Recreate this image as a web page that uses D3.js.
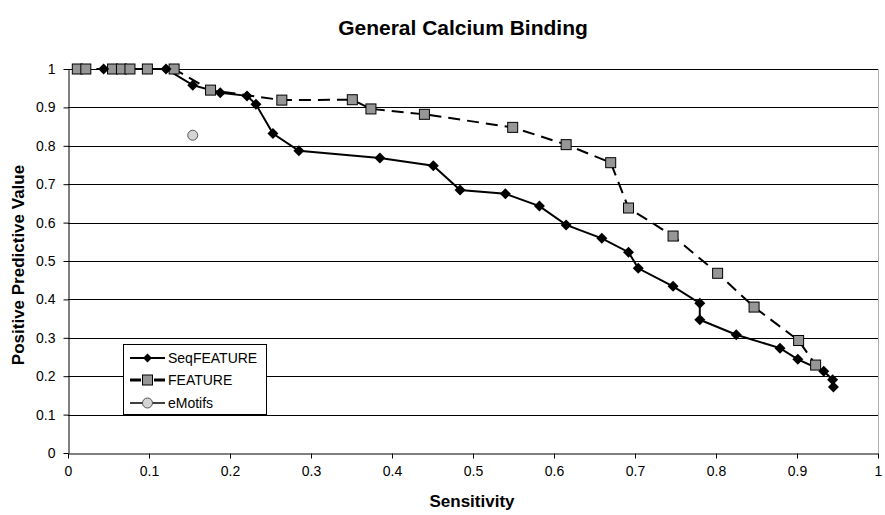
<!DOCTYPE html>
<html>
<head>
<meta charset="utf-8">
<script src="https://cdn.jsdelivr.net/npm/d3@7"></script>
<style>
  body { margin: 0; background: #fff; }
  svg { display: block; font-family: Arial, "Liberation Sans", sans-serif; }
</style>
</head>
<body>
<svg id="chart" width="885" height="515"></svg>
<script>
const title = "General Calcium Binding";
const xTitle = "Sensitivity";
const yTitle = "Positive Predictive Value";
const xTicks = [0, 0.1, 0.2, 0.3, 0.4, 0.5, 0.6, 0.7, 0.8, 0.9, 1];
const yTicks = [0, 0.1, 0.2, 0.3, 0.4, 0.5, 0.6, 0.7, 0.8, 0.9, 1];

const seqX = [0.044, 0.121, 0.154, 0.188, 0.221, 0.232, 0.253, 0.285, 0.385, 0.451, 0.484, 0.540, 0.582, 0.615, 0.659, 0.692, 0.704, 0.747, 0.780, 0.780, 0.825, 0.879, 0.901, 0.933, 0.944, 0.945];
const seqY = [1.000, 1.000, 0.958, 0.938, 0.930, 0.908, 0.832, 0.787, 0.768, 0.748, 0.685, 0.675, 0.643, 0.594, 0.559, 0.523, 0.481, 0.434, 0.390, 0.347, 0.308, 0.273, 0.244, 0.213, 0.191, 0.172];

const featX = [0.0115, 0.022, 0.055, 0.066, 0.0765, 0.098, 0.131, 0.176, 0.264, 0.351, 0.374, 0.440, 0.549, 0.615, 0.670, 0.692, 0.747, 0.802, 0.847, 0.902, 0.923];
const featY = [1.000, 1.000, 1.000, 1.000, 1.000, 1.000, 1.000, 0.945, 0.919, 0.920, 0.896, 0.882, 0.848, 0.803, 0.756, 0.638, 0.565, 0.468, 0.380, 0.293, 0.229];

const emoX = [0.154];
const emoY = [0.8275];

const seriesNames = ["SeqFEATURE", "FEATURE", "eMotifs"];

const svg = d3.select("#chart");
const m = { left: 68, right: 7, top: 69, bottom: 62 };
const W = 885, H = 515;
const x = d3.scaleLinear().domain([0, 1]).range([m.left, W - m.right]);
const y = d3.scaleLinear().domain([0, 1]).range([H - m.bottom, m.top]);

svg.append("line")
  .attr("x1", x(1) + 0.5).attr("x2", x(1) + 0.5)
  .attr("y1", y(1)).attr("y2", y(0))
  .attr("stroke", "#b0b0b0").attr("stroke-width", 1);

svg.append("g").selectAll("line").data(yTicks.filter(d => d > 0)).join("line")
  .attr("x1", x(0)).attr("x2", x(1))
  .attr("y1", d => Math.round(y(d)) + 0.5).attr("y2", d => Math.round(y(d)) + 0.5)
  .attr("stroke", "#000").attr("stroke-width", 1);

const xAxis = d3.axisBottom(x).tickValues(xTicks).tickFormat(d => d3.format("")(d)).tickSizeInner(5).tickSizeOuter(0).tickPadding(8);
const yAxis = d3.axisLeft(y).tickValues(yTicks).tickFormat(d => d3.format("")(d)).tickSizeInner(5).tickSizeOuter(0).tickPadding(8);

const gx = svg.append("g").attr("transform", `translate(0,${Math.round(y(0)) + 0.5})`).call(xAxis);
const gy = svg.append("g").attr("transform", `translate(${Math.round(x(0)) + 0.5},0)`).call(yAxis);
[gx, gy].forEach(g => {
  g.selectAll("path,line").attr("stroke", "#000").attr("stroke-width", 1);
  g.selectAll("text").attr("font-size", 14).attr("fill", "#000").attr("font-family", "Arial, 'Liberation Sans', sans-serif");
});

const seqData = seqX.map((v, i) => [v, seqY[i]]);
const featData = featX.map((v, i) => [v, featY[i]]);
const emoData = emoX.map((v, i) => [v, emoY[i]]);
const line = d3.line().x(d => x(d[0])).y(d => y(d[1]));

svg.append("path").datum(featData).attr("d", line)
  .attr("fill", "none").attr("stroke", "#000").attr("stroke-width", 2)
  .attr("stroke-dasharray", "12,7");
svg.append("path").datum(seqData).attr("d", line)
  .attr("fill", "none").attr("stroke", "#000").attr("stroke-width", 2);

const diamond = s => `M0,${-s}L${s},0L0,${s}L${-s},0Z`;
function drawSquare(g, cx, cy) {
  g.append("rect").attr("x", cx - 5).attr("y", cy - 5).attr("width", 10).attr("height", 10)
    .attr("fill", "#969696").attr("stroke", "#000").attr("stroke-width", 1);
}

const sq = svg.append("g");
featData.forEach(d => drawSquare(sq, x(d[0]), y(d[1])));
svg.append("g").selectAll("path").data(seqData).join("path")
  .attr("transform", d => `translate(${x(d[0])},${y(d[1])})`)
  .attr("d", diamond(5.5)).attr("fill", "#000");
svg.append("g").selectAll("circle").data(emoData).join("circle")
  .attr("cx", d => x(d[0])).attr("cy", d => y(d[1])).attr("r", 5)
  .attr("fill", "#d4d4d4").attr("stroke", "#555").attr("stroke-width", 1);

svg.append("text").attr("x", 463).attr("y", 35).attr("text-anchor", "middle")
  .attr("font-size", 21).attr("font-weight", "bold").text(title);
svg.append("text").attr("x", 472).attr("y", 507).attr("text-anchor", "middle")
  .attr("font-size", 17).attr("font-weight", "bold").text(xTitle);
svg.append("text").attr("transform", `translate(24,${(y(0) + y(1)) / 2 + 4}) rotate(-90)`)
  .attr("text-anchor", "middle").attr("font-size", 17).attr("font-weight", "bold").text(yTitle);

const lg = svg.append("g");
lg.append("rect").attr("x", 123.5).attr("y", 344.5).attr("width", 143).attr("height", 70)
  .attr("fill", "#fff").attr("stroke", "#000").attr("stroke-width", 1);
const rows = [358, 380, 403];
lg.append("line").attr("x1", 130).attr("x2", 165).attr("y1", rows[0]).attr("y2", rows[0]).attr("stroke", "#000").attr("stroke-width", 2);
lg.append("path").attr("transform", `translate(147.5,${rows[0]})`).attr("d", diamond(4.5)).attr("fill", "#000");
lg.append("line").attr("x1", 130).attr("x2", 141).attr("y1", rows[1]).attr("y2", rows[1]).attr("stroke", "#000").attr("stroke-width", 3);
lg.append("line").attr("x1", 154).attr("x2", 165).attr("y1", rows[1]).attr("y2", rows[1]).attr("stroke", "#000").attr("stroke-width", 3);
drawSquare(lg, 147.5, rows[1]);
lg.append("line").attr("x1", 130).attr("x2", 165).attr("y1", rows[2]).attr("y2", rows[2]).attr("stroke", "#000").attr("stroke-width", 1.5);
lg.append("circle").attr("cx", 147.5).attr("cy", rows[2]).attr("r", 5).attr("fill", "#d4d4d4").attr("stroke", "#555");
lg.selectAll("text.lbl").data(seriesNames).join("text").attr("class", "lbl")
  .attr("x", 168).attr("y", (d, i) => rows[i] + 5).attr("font-size", 14).text(d => d);
</script>
</body>
</html>
